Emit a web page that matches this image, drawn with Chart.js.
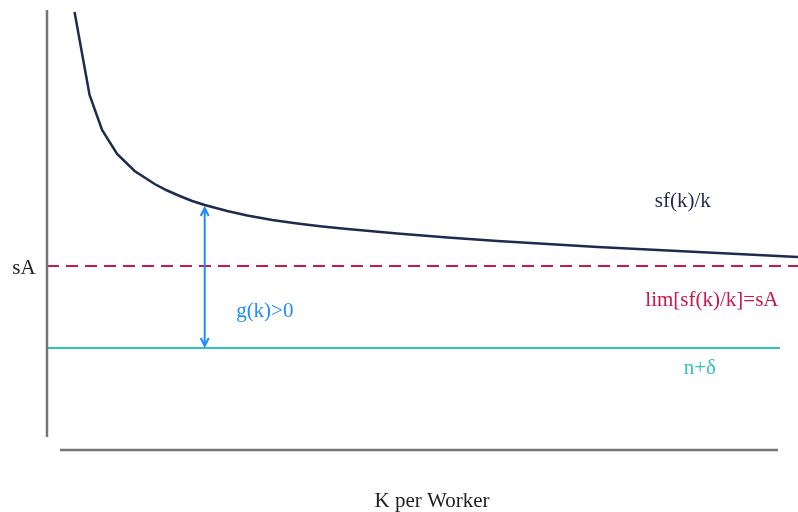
<!DOCTYPE html>
<html>
<head>
<meta charset="utf-8">
<title>sf(k)/k</title>
<script src="https://cdn.jsdelivr.net/npm/chart.js@4"></script>
<style>
  html, body { margin: 0; padding: 0; background: #fff; }
  canvas { display: block; }
</style>
</head>
<body>
<canvas id="chart" width="798" height="512"></canvas>
<script>
// capital per worker (k) and sf(k)/k
const kValues = [0.55, 0.85, 1.1, 1.4, 1.75, 2.15, 2.4, 2.65, 2.9, 3.15, 3.6, 4, 4.5, 5, 5.5, 6, 7, 8, 9, 10, 11, 12, 13, 14, 15];
const sfkOverK = [4.38, 3.55, 3.2, 2.96, 2.79, 2.66, 2.595, 2.54, 2.49, 2.45, 2.39, 2.345, 2.3, 2.265, 2.235, 2.21, 2.165, 2.125, 2.09, 2.06, 2.03, 2.005, 1.98, 1.955, 1.93];

// horizontal levels
const sA = 1.84;
const nPlusDelta = 1.02;
const limitSpan = [0, 15];
const nDeltaSpan = [0, 14.64];

// arrow g(k)>0 at this k
const arrowK = 3.15;

const colors = {
    curve: '#1f2a4f',
    limit: '#c8184a',
    nDelta: '#2fc4b4',
    arrow: '#1e8cff',
    axis: '#767676',
    text: '#222222'
};

const FONT = '21px "Liberation Serif", "Times New Roman", serif';

// axes, arrow and labels drawn over the (hidden) scales
const annotations = {
    id: 'annotations',
    afterDatasetsDraw(chart) {
        const ctx = chart.ctx;
        const x = chart.scales.x;
        const y = chart.scales.y;

        ctx.save();
        // axis lines
        ctx.strokeStyle = colors.axis;
        ctx.lineWidth = 2.5;
        ctx.beginPath();
        ctx.moveTo(x.getPixelForValue(0), y.getPixelForValue(4.4));
        ctx.lineTo(x.getPixelForValue(0), y.getPixelForValue(0.13));
        ctx.moveTo(x.getPixelForValue(0.26), y.getPixelForValue(0));
        ctx.lineTo(x.getPixelForValue(14.6), y.getPixelForValue(0));
        ctx.stroke();

        // double arrow
        const idx = kValues.indexOf(arrowK);
        const ax = x.getPixelForValue(arrowK);
        const top = y.getPixelForValue(sfkOverK[idx]) + 3;
        const bottom = y.getPixelForValue(nPlusDelta) - 2;
        ctx.strokeStyle = colors.arrow;
        ctx.lineWidth = 2;
        ctx.beginPath();
        ctx.moveTo(ax, top);
        ctx.lineTo(ax, bottom);
        ctx.moveTo(ax - 4, top + 8);
        ctx.lineTo(ax, top);
        ctx.lineTo(ax + 4, top + 8);
        ctx.moveTo(ax - 4, bottom - 8);
        ctx.lineTo(ax, bottom);
        ctx.lineTo(ax + 4, bottom - 8);
        ctx.stroke();

        // text
        ctx.font = FONT;
        ctx.textAlign = 'center';
        ctx.textBaseline = 'middle';
        ctx.fillStyle = colors.curve;
        ctx.fillText('sf(k)/k', x.getPixelForValue(12.7), y.getPixelForValue(2.49));
        ctx.fillStyle = colors.limit;
        ctx.fillText('lim[sf(k)/k]=sA', x.getPixelForValue(13.28), y.getPixelForValue(1.5));
        ctx.fillStyle = colors.nDelta;
        ctx.fillText('n+\u03b4', x.getPixelForValue(13.04), y.getPixelForValue(0.82));
        ctx.fillStyle = colors.arrow;
        ctx.fillText('g(k)>0', x.getPixelForValue(4.35), y.getPixelForValue(1.39));
        ctx.fillStyle = colors.text;
        ctx.fillText('sA', x.left - 23, y.getPixelForValue(sA) + 2);
        ctx.fillText('K per Worker', x.getPixelForValue(7.69), y.bottom + 51);
        ctx.restore();
    }
};

new Chart(document.getElementById('chart').getContext('2d'), {
    type: 'line',
    data: {
        datasets: [
            {
                label: 'sf(k)/k',
                data: kValues.map((k, i) => ({ x: k, y: sfkOverK[i] })),
                borderColor: colors.curve,
                borderWidth: 2.5,
                tension: 0,
                pointRadius: 0
            },
            {
                label: 'lim[sf(k)/k]=sA',
                data: limitSpan.map(k => ({ x: k, y: sA })),
                borderColor: colors.limit,
                borderWidth: 2,
                borderDash: [12, 7],
                pointRadius: 0
            },
            {
                label: 'n+\u03b4',
                data: nDeltaSpan.map(k => ({ x: k, y: nPlusDelta })),
                borderColor: colors.nDelta,
                borderWidth: 2,
                pointRadius: 0
            }
        ]
    },
    options: {
        responsive: false,
        animation: false,
        layout: { padding: { left: 47, right: 0, top: 10, bottom: 62 } },
        plugins: {
            legend: { display: false },
            tooltip: { enabled: false }
        },
        scales: {
            x: { type: 'linear', min: 0, max: 15, display: false },
            y: { type: 'linear', min: 0, max: 4.4, display: false }
        }
    },
    plugins: [annotations]
});
</script>
</body>
</html>
